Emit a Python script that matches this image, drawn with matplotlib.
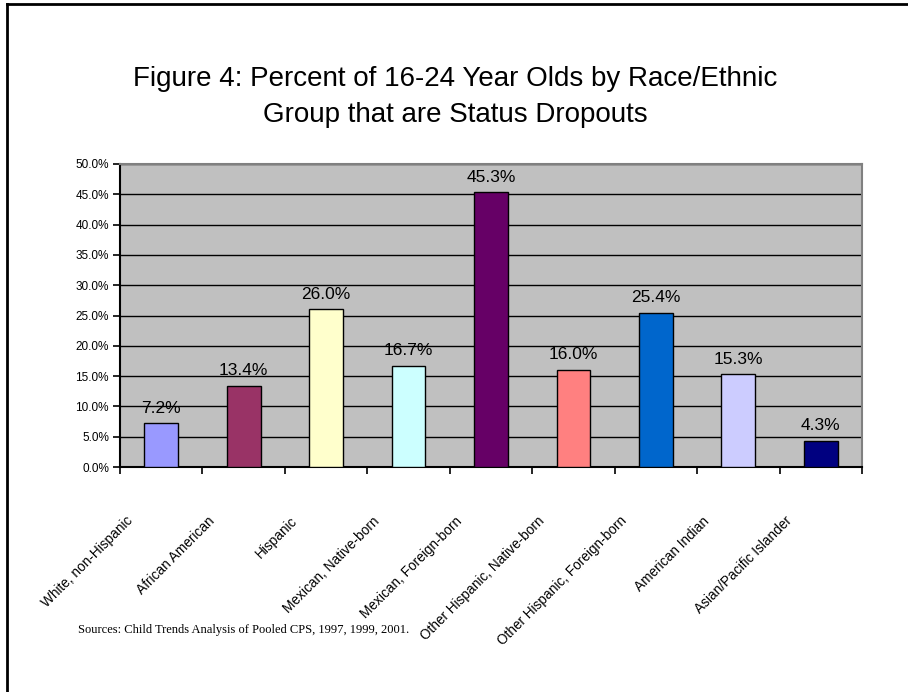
import matplotlib
matplotlib.use("Agg")
import matplotlib.pyplot as plt
from matplotlib.transforms import ScaledTranslation
from matplotlib.lines import Line2D
import numpy as np

plt.rcParams['font.family'] = ['Liberation Sans', 'DejaVu Sans']

categories = ["White, non-Hispanic", "African American", "Hispanic",
              "Mexican, Native-born", "Mexican, Foreign-born",
              "Other Hispanic, Native-born", "Other Hispanic, Foreign-born",
              "American Indian", "Asian/Pacific Islander"]
values = [7.2, 13.4, 26.0, 16.7, 45.3, 16.0, 25.4, 15.3, 4.3]
colors = ["#9999FF", "#993366", "#FFFFCC", "#CCFFFF", "#660066",
          "#FF8080", "#0066CC", "#CCCCFF", "#000080"]
yticks = [0, 5, 10, 15, 20, 25, 30, 35, 40, 45, 50]

fig = plt.figure(figsize=(9.08, 6.92), dpi=100)
ax = fig.add_axes([120/908, 1-467/692, (862-120)/908, (467-164)/692])
ax.set_facecolor("#C0C0C0")

x = np.arange(len(categories))
ax.bar(x, values, width=0.41, color=colors, edgecolor="black", linewidth=1.0, zorder=3)
for xi, v in zip(x, values):
    ax.annotate(f"{v:.1f}%", (xi, v), xytext=(0, 5.5), textcoords="offset points",
                ha="center", va="bottom", fontsize=12.5, zorder=4)

ax.set_xlim(-0.5, len(categories) - 0.5)
ax.set_ylim(0, 50)
ax.set_yticks(yticks)
ax.set_yticklabels([f"{t:.1f}%" for t in yticks], fontsize=8.5)
ax.yaxis.grid(True, color="black", linewidth=1.0, zorder=1)
ax.set_axisbelow(True)

ax.set_xticks(x)
ax.set_xticklabels(categories, rotation=45, ha="right", va="top",
                   rotation_mode="anchor", fontsize=9.8)
ax.tick_params(axis="x", which="major", length=0, pad=0)
ax.set_xticks(np.arange(-0.5, len(categories), 1.0), minor=True)
ax.tick_params(axis="x", which="minor", length=5, width=1.2, direction="out", color="black")
ax.tick_params(axis="y", length=5, width=1.2, direction="out", color="black", pad=3)
off = ScaledTranslation(-36/100, -47/100, fig.dpi_scale_trans)
for lbl in ax.get_xticklabels():
    lbl.set_transform(lbl.get_transform() + off)

for s in ["left", "bottom"]:
    ax.spines[s].set_color("black")
    ax.spines[s].set_linewidth(1.5)
for s in ["top", "right"]:
    ax.spines[s].set_color("#808080")
    ax.spines[s].set_linewidth(1.5)

fig.text(455/908, 1-97/692, "Figure 4: Percent of 16-24 Year Olds by Race/Ethnic\nGroup that are Status Dropouts",
         ha="center", va="center", fontsize=20, linespacing=1.45)
fig.text(78/908, 1-630/692, "Sources: Child Trends Analysis of Pooled CPS, 1997, 1999, 2001.",
         ha="left", va="center", fontsize=9, family=["Liberation Serif", "DejaVu Serif"])

fig.add_artist(Line2D([7/908, 7/908], [0, 1-4/692], transform=fig.transFigure, color="black", linewidth=2))
fig.add_artist(Line2D([7/908, 1], [1-4/692, 1-4/692], transform=fig.transFigure, color="black", linewidth=2))

fig.savefig("out.png", dpi=100)
